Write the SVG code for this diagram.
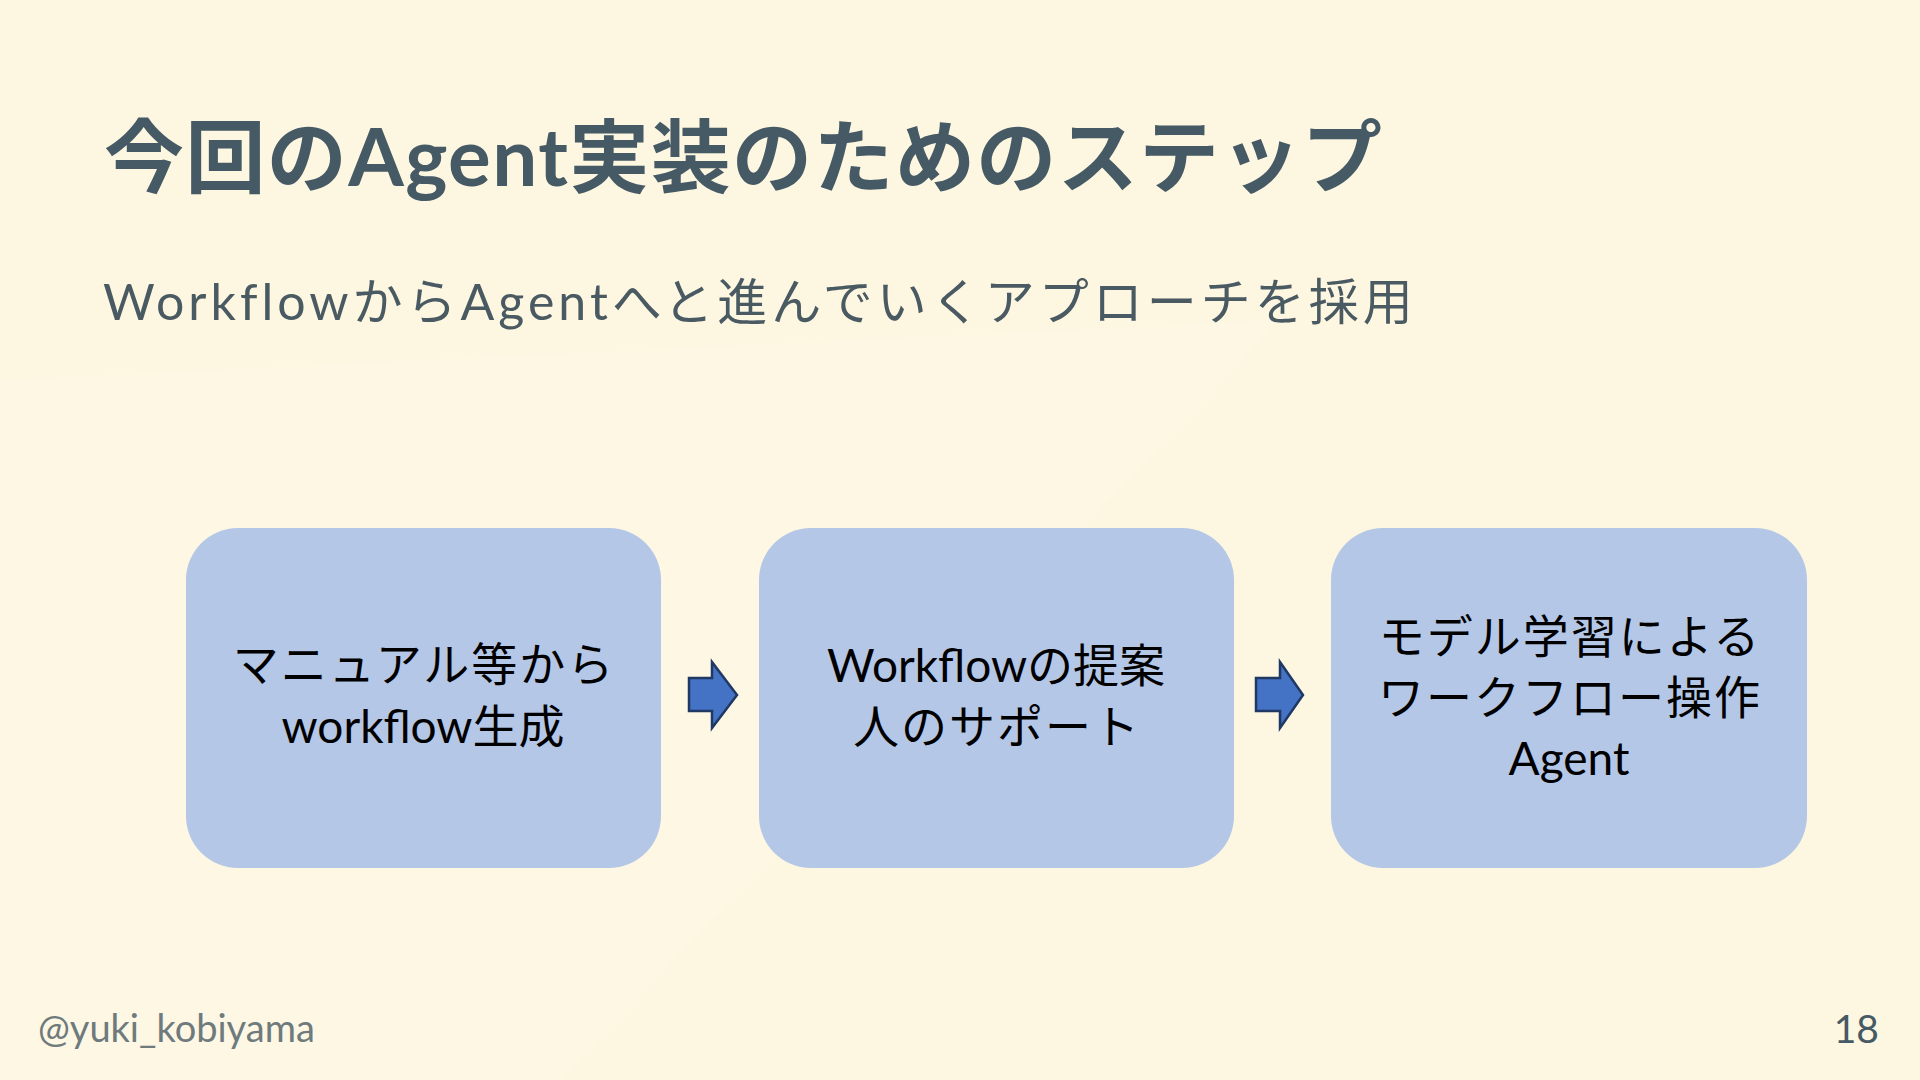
<svg xmlns="http://www.w3.org/2000/svg" width="1920" height="1080" viewBox="0 0 1920 1080">
  <style>
    .title { font-family: Lato, "Noto Sans CJK JP", sans-serif; font-weight: 700; font-size: 80px; fill: #455A64; letter-spacing: 1.4px; }
    .sub { font-family: Lato, "Noto Sans CJK JP", sans-serif; font-weight: 400; font-size: 50px; fill: #4A5A62; letter-spacing: 4px; }
    .foot { font-family: Lato, "Noto Sans CJK JP", sans-serif; font-size: 38px; fill: #6E7A7C; }
    .page { font-family: Lato, sans-serif; font-size: 39px; fill: #455A64; }
    .box { fill: #B4C7E7; }
    .label { font-family: Lato, "Noto Sans CJK JP", sans-serif; font-size: 46px; fill: #000000; text-anchor: middle; }
    .wide { letter-spacing: 2px; }
    .arrow { fill: #4472C4; stroke: #1F3864; stroke-width: 2.5; stroke-linejoin: miter; }
  </style>
  <rect x="0" y="0" width="1920" height="1080" fill="#FDF6E0"/>
  <polygon points="0,380 1280,320 560,1080 0,1080" fill="#FDF8E6" opacity="0.6"/>

  <text class="title" x="104" y="186">今回のAgent実装のためのステップ</text>
  <text class="sub" x="103" y="320">WorkflowからAgentへと進んでいくアプローチを採用</text>

  <g id="node-1">
    <rect class="box" x="186" y="528" width="475" height="340" rx="52" ry="52"/>
    <text class="label wide" x="424" y="681">マニュアル等から</text>
    <text class="label" x="423" y="743">workflow生成</text>
  </g>
  <g id="node-2">
    <rect class="box" x="759" y="528" width="475" height="340" rx="52" ry="52"/>
    <text class="label" x="996" y="682">Workflowの提案</text>
    <text class="label wide" x="997" y="743">人のサポート</text>
  </g>
  <g id="node-3">
    <rect class="box" x="1331" y="528" width="476" height="340" rx="52" ry="52"/>
    <text class="label wide" x="1570" y="653">モデル学習による</text>
    <text class="label wide" x="1570" y="714">ワークフロー操作</text>
    <text class="label" x="1569" y="775">Agent</text>
  </g>

  <g id="connectors">
    <polygon class="arrow" points="689,678 712,678 712,662 737,695 712,728 712,711 689,711"/>
    <polygon class="arrow" points="1256,678 1280,678 1280,662 1303,695 1280,728 1280,711 1256,711"/>
  </g>

  <text class="foot" x="38" y="1042">@yuki_kobiyama</text>
  <text class="page" x="1879" y="1043" text-anchor="end">18</text>
</svg>
